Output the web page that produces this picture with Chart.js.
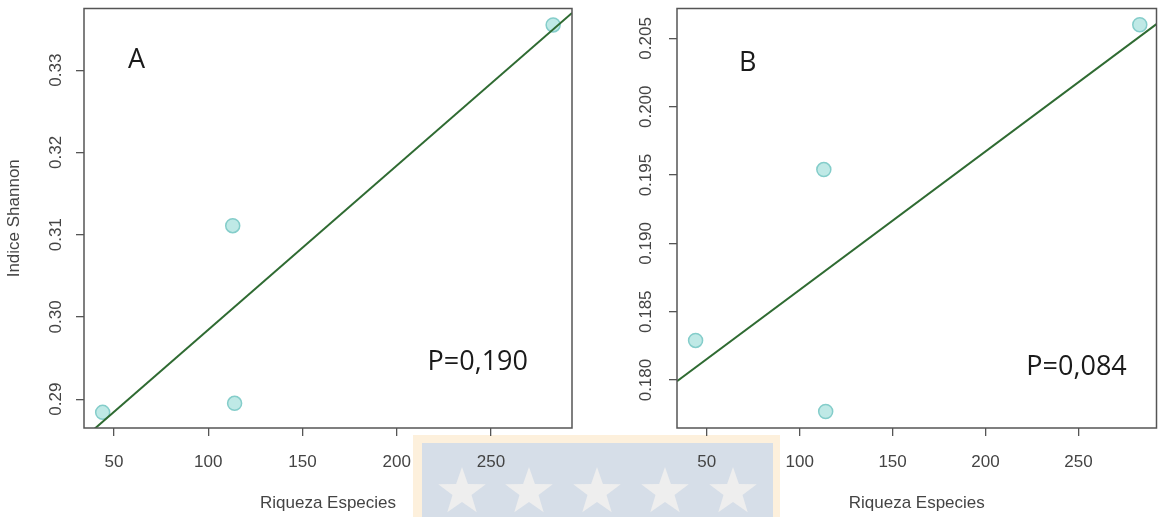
<!DOCTYPE html>
<html>
<head>
<meta charset="utf-8">
<script src="https://cdn.jsdelivr.net/npm/chart.js@4.4.1/dist/chart.umd.min.js"></script>
<style>
  body { margin: 0; background: #fff; }
  #wrap { position: relative; width: 1165px; height: 517px; overflow: hidden; }
  canvas { position: absolute; top: 0; z-index: 2; }
  #chartA { left: 0; }
  #chartB { left: 590px; }
  #sello { position: absolute; left: 413px; top: 435px; width: 367px; height: 90px; background: #fdf0dc; z-index: 1; }
  #sello .in { position: absolute; left: 9px; top: 8px; right: 7px; bottom: 0; background: #d6dee8; }
  #sello svg { position: absolute; left: 0; top: 0; }
</style>
</head>
<body>
<div id="wrap">
  <div id="sello">
    <div class="in">
      <svg width="351" height="82">
        <defs>
          <polygon id="estrella" points="0,-25 5.9,-8.1 23.8,-7.7 9.5,3.1 14.7,20.2 0,10 -14.7,20.2 -9.5,3.1 -23.8,-7.7 -5.9,-8.1" fill="#eeeeee"/>
        </defs>
        <use href="#estrella" x="40" y="49"/>
        <use href="#estrella" x="107" y="49"/>
        <use href="#estrella" x="175" y="49"/>
        <use href="#estrella" x="243" y="49"/>
        <use href="#estrella" x="311" y="49"/>
      </svg>
    </div>
  </div>
  <canvas id="chartA" width="590" height="517"></canvas>
  <canvas id="chartB" width="575" height="517"></canvas>
</div>
<script>
// datos
const riqueza = [44, 113, 114, 283];
const shannonA = [0.2884, 0.3111, 0.2895, 0.3355];
const shannonB = [0.1829, 0.1954, 0.1777, 0.2060];
const xTicks = [50, 100, 150, 200, 250];
const yTicksA = [0.29, 0.30, 0.31, 0.32, 0.33];
const yTicksB = [0.180, 0.185, 0.190, 0.195, 0.200, 0.205];
const pValorA = "P=0,190";
const pValorB = "P=0,084";

Chart.defaults.font.family = '"Liberation Sans", Arial, sans-serif';
Chart.defaults.color = "#444";

// recta de minimos cuadrados
function ajuste(xs, ys) {
  const n = xs.length;
  const mx = xs.reduce((a, b) => a + b, 0) / n;
  const my = ys.reduce((a, b) => a + b, 0) / n;
  let sxy = 0, sxx = 0;
  xs.forEach((x, i) => {
    sxy += (x - mx) * (ys[i] - my);
    sxx += (x - mx) * (x - mx);
  });
  const m = sxy / sxx;
  return { m: m, b: my - m * mx };
}

// marco del grafico y textos (A, B, P)
const marco = {
  id: "marco",
  afterDraw(chart, args, opts) {
    const { ctx, chartArea: a, scales: { x, y } } = chart;
    ctx.save();
    ctx.strokeStyle = "#555";
    ctx.lineWidth = 1.5;
    ctx.strokeRect(a.left, a.top, a.right - a.left, a.bottom - a.top);
    ctx.fillStyle = "#1a1a1a";
    ctx.font = '27px "Open Sans"';
    ctx.textAlign = "center";
    ctx.textBaseline = "middle";
    opts.textos.forEach(t => {
      ctx.fillText(t.texto, x.getPixelForValue(t.x), y.getPixelForValue(t.y));
    });
    ctx.restore();
  }
};

function crearGrafico(id, ys, yTicks, dec, cfg) {
  const f = ajuste(riqueza, ys);
  const puntos = riqueza.map((x, i) => ({ x: x, y: ys[i] }));
  const recta = [
    { x: cfg.xMin, y: f.m * cfg.xMin + f.b },
    { x: cfg.xMax, y: f.m * cfg.xMax + f.b }
  ];

  return new Chart(document.getElementById(id), {
    type: "scatter",
    data: {
      datasets: [
        {
          type: "line",
          data: recta,
          borderColor: "#2f6b32",
          borderWidth: 2,
          pointRadius: 0,
          clip: 0
        },
        {
          data: puntos,
          backgroundColor: "#bfe9e6",
          borderColor: "#84cdca",
          borderWidth: 1.5,
          pointRadius: 7,
          clip: false
        }
      ]
    },
    options: {
      responsive: false,
      animation: false,
      layout: { padding: { top: 6, right: cfg.derecha, left: 0, bottom: 0 } },
      plugins: {
        legend: { display: false },
        tooltip: { enabled: false },
        marco: { textos: cfg.textos }
      },
      scales: {
        x: {
          type: "linear",
          min: cfg.xMin,
          max: cfg.xMax,
          afterBuildTicks: s => { s.ticks = xTicks.map(v => ({ value: v })); },
          afterFit: s => {
            s.height = 89;
            s.paddingLeft = 0;
            s.paddingRight = 0;
          },
          ticks: { padding: 16, maxRotation: 0, font: { size: 17 }, color: "#444" },
          grid: { drawOnChartArea: false, tickLength: 8, color: "#555", lineWidth: 1.3 },
          border: { display: false },
          title: {
            display: true,
            text: "Riqueza Especies",
            font: { size: 17 },
            color: "#444",
            padding: { top: 0, bottom: 3 }
          }
        },
        y: {
          type: "linear",
          min: cfg.yMin,
          max: cfg.yMax,
          afterBuildTicks: s => { s.ticks = yTicks.map(v => ({ value: v })); },
          afterFit: s => {
            s.width = cfg.anchoY;
            s.paddingTop = 0;
            s.paddingBottom = 0;
          },
          ticks: {
            callback: v => v.toFixed(dec),
            minRotation: 90,
            maxRotation: 90,
            crossAlign: "center",
            padding: cfg.padY,
            font: { size: 17 },
            color: "#444"
          },
          grid: { drawOnChartArea: false, tickLength: 8, color: "#555", lineWidth: 1.3 },
          border: { display: false },
          title: {
            display: cfg.tituloY !== "",
            text: cfg.tituloY,
            font: { size: 17 },
            color: "#444",
            padding: { top: 4, bottom: 0 }
          }
        }
      }
    },
    plugins: [marco]
  });
}

crearGrafico("chartA", shannonA, yTicksA, 2, {
  xMin: 34.1, xMax: 293, yMin: 0.2865, yMax: 0.3375,
  anchoY: 84, padY: 3, derecha: 18,
  tituloY: "Indice Shannon",
  textos: [
    { texto: "A", x: 62, y: 0.3312 },
    { texto: pValorA, x: 243, y: 0.2945 }
  ]
});

crearGrafico("chartB", shannonB, yTicksB, 3, {
  xMin: 34.0, xMax: 292, yMin: 0.17649, yMax: 0.20719,
  anchoY: 87, padY: 1, derecha: 3,
  tituloY: "",
  textos: [
    { texto: "B", x: 72, y: 0.2032 },
    { texto: pValorB, x: 249, y: 0.18095 }
  ]
});
</script>
</body>
</html>
